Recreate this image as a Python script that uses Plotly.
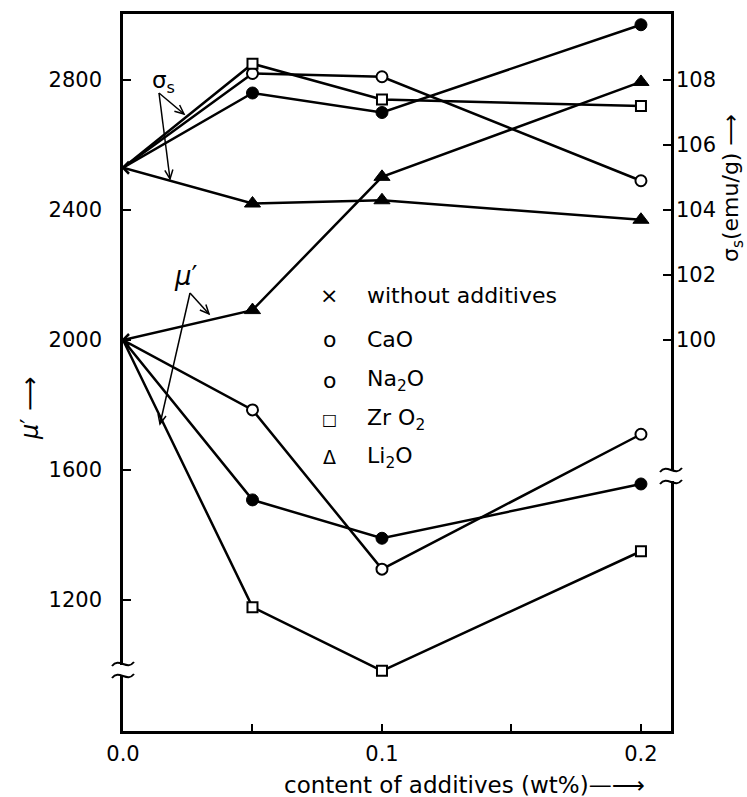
import math
import plotly.graph_objects as go

# ---------------- data ----------------
x_add = [0.05, 0.1, 0.2]            # content of additives (wt%)
x_base = [0.0]

base_mu = [2000]                    # mu' without additives
base_sig = [105.3]                  # sigma_s without additives (emu/g)

mu_cao = [1785, 1295, 1710]
mu_na2o = [1508, 1390, 1557]
mu_zro2 = [1178, 982, 1350]
mu_li2o = [2092, 2502, 2794]

sig_cao = [108.2, 108.1, 104.9]
sig_na2o = [107.6, 107.0, 109.7]
sig_zro2 = [108.5, 107.4, 107.2]
sig_li2o = [104.2, 104.3, 103.7]

mu_ticks = [1200, 1600, 2000, 2400, 2800]
sig_ticks = [100, 102, 104, 106, 108]
x_ticks = [0.0, 0.1, 0.2]
x_ticktext = ["0.0", "0.1", "0.2"]
x_minor = [0.05, 0.15]

legend_labels = ["without additives", "CaO", "Na<sub>2</sub>O", "Zr O<sub>2</sub>", "Li<sub>2</sub>O"]
legend_symbols = ["×", "o", "o", "□", "Δ"]

# ---------------- layout geometry ----------------
W, H = 747, 797
L, R, T, B = 123, 671, 14, 731
def px(x): return (x - L) / (R - L)
def py(y): return (B - y) / (B - T)

FONT = "DejaVu Sans"
LW = 2.5

series = [
    ("CaO", mu_cao, sig_cao, dict(symbol="circle", size=11, color="white", line=dict(color="black", width=2))),
    ("Na2O", mu_na2o, sig_na2o, dict(symbol="circle", size=12, color="black", line=dict(color="black", width=1))),
    ("ZrO2", mu_zro2, sig_zro2, dict(symbol="square", size=10, color="white", line=dict(color="black", width=2))),
    ("Li2O", mu_li2o, sig_li2o, dict(symbol="triangle-up", size=14, color="black", line=dict(color="black", width=1))),
]

fig = go.Figure()
for name, mu, sig, mk in series:
    fig.add_trace(go.Scatter(x=x_base + x_add, y=base_mu + mu, mode="lines",
                             line=dict(color="black", width=LW), yaxis="y", showlegend=False))
    fig.add_trace(go.Scatter(x=x_base + x_add, y=base_sig + sig, mode="lines",
                             line=dict(color="black", width=LW), yaxis="y2", showlegend=False))
for name, mu, sig, mk in series:
    fig.add_trace(go.Scatter(x=x_add, y=mu, mode="markers", marker=mk, yaxis="y", showlegend=False))
    fig.add_trace(go.Scatter(x=x_add, y=sig, mode="markers", marker=mk, yaxis="y2", showlegend=False))
xmk = dict(symbol="x-thin", size=12, line=dict(color="black", width=2.5))
fig.add_trace(go.Scatter(x=x_base, y=base_mu, mode="markers", marker=xmk, yaxis="y", showlegend=False))
fig.add_trace(go.Scatter(x=x_base, y=base_sig, mode="markers", marker=xmk, yaxis="y2", showlegend=False))

# axis ranges: left 400 units = 130 px ; right 1 unit = 32.5 px
mu_lo = 2000 - (B - 340) * 400 / 130
mu_hi = 2000 + (340 - T) * 400 / 130
sig_lo = 100 - (B - 340) / 32.5
sig_hi = 100 + (340 - T) / 32.5

tickfont = dict(family=FONT, size=21, color="black")

def txt(x, y, text, size, angle=0, xanchor="center"):
    return dict(x=px(x), y=py(y), xref="paper", yref="paper", text=text, showarrow=False,
                textangle=angle, xanchor=xanchor, yanchor="middle",
                font=dict(family=FONT, size=size, color="black"))

annotations = []
rows = [295, 339, 380, 419, 457]
sym_sizes = [22, 22, 22, 16, 19]
for lab, sym, yy, ss in zip(legend_labels, legend_symbols, rows, sym_sizes):
    annotations.append(txt(329, yy, sym, ss))
    annotations.append(txt(365, yy, lab, 22, xanchor="left"))

annotations.append(txt(163, 82, "σ<sub>s</sub>", 23))
annotations.append(txt(186, 276, "<i>μ</i>′", 26))
annotations.append(txt(30, 408, "<i>μ</i>′ ⟶", 24, angle=-90))
annotations.append(txt(733, 188, "σ<sub>s</sub>(emu/g) ⟶", 22, angle=-90))
annotations.append(txt(282, 785, "content of additives (wt%)—⟶", 23, xanchor="left"))

shapes = []
def arrow(tail, tip):
    dx, dy = tip[0] - tail[0], tip[1] - tail[1]
    n = math.hypot(dx, dy)
    ux, uy = dx / n, dy / n
    out = [dict(type="line", xref="paper", yref="paper", x0=px(tail[0]), y0=py(tail[1]),
                x1=px(tip[0]), y1=py(tip[1]), line=dict(color="black", width=1.5))]
    hl, ang = 10, math.radians(24)
    pts = []
    for s in (ang, -ang):
        bx = -(ux * math.cos(s) - uy * math.sin(s)) * hl
        by = -(ux * math.sin(s) + uy * math.cos(s)) * hl
        pts.append((tip[0] + bx, tip[1] + by))
    path = f"M {px(pts[0][0])},{py(pts[0][1])} L {px(tip[0])},{py(tip[1])} L {px(pts[1][0])},{py(pts[1][1])}"
    out.append(dict(type="path", xref="paper", yref="paper", path=path, line=dict(color="black", width=1.5)))
    return out

shapes += arrow((159, 93), (184, 114))
shapes += arrow((159, 93), (170, 179))
shapes += arrow((190, 293), (209, 314))
shapes += arrow((190, 293), (160, 424))

def brk(cx, cy):
    s = [dict(type="rect", xref="paper", yref="paper", x0=px(cx - 4), x1=px(cx + 4),
              y0=py(cy + 5), y1=py(cy - 5), fillcolor="white", line=dict(width=0), layer="above")]
    for dy in (-6, 6):
        yy = cy + dy
        path = (f"M {px(cx-11)},{py(yy+2)} C {px(cx-4)},{py(yy-7)} {px(cx+4)},{py(yy+7)} {px(cx+11)},{py(yy-2)}")
        s.append(dict(type="path", xref="paper", yref="paper", path=path,
                      line=dict(color="black", width=2), layer="above"))
    return s
shapes += brk(L, 670)
shapes += brk(R, 476)

fig.update_layout(
    width=W, height=H, autosize=False,
    margin=dict(l=L, r=W - R, t=T, b=H - B, pad=0),
    paper_bgcolor="white", plot_bgcolor="white",
    showlegend=False,
    xaxis=dict(range=[0, 0.2116], tickvals=x_ticks, ticktext=x_ticktext, ticks="inside", ticklen=7,
               tickwidth=2, tickcolor="black", showline=True, linecolor="black", linewidth=2.5, mirror=True,
               minor=dict(tickvals=x_minor, ticks="inside", ticklen=7, tickwidth=2, tickcolor="black"),
               showgrid=False, zeroline=False, tickfont=tickfont, ticklabelstandoff=2),
    yaxis=dict(range=[mu_lo, mu_hi], tickvals=mu_ticks, ticks="inside", ticklen=8, tickwidth=2,
               tickcolor="black", showline=True, linecolor="black", linewidth=2.5, mirror=True,
               showgrid=False, zeroline=False, tickfont=tickfont, ticklabelstandoff=14),
    yaxis2=dict(range=[sig_lo, sig_hi], tickvals=sig_ticks, ticks="inside", ticklen=8, tickwidth=2,
                tickcolor="black", overlaying="y", side="right", showline=False,
                showgrid=False, zeroline=False, tickfont=tickfont, ticklabelstandoff=4),
    annotations=annotations,
    shapes=shapes,
)

fig.write_html("out.html")
